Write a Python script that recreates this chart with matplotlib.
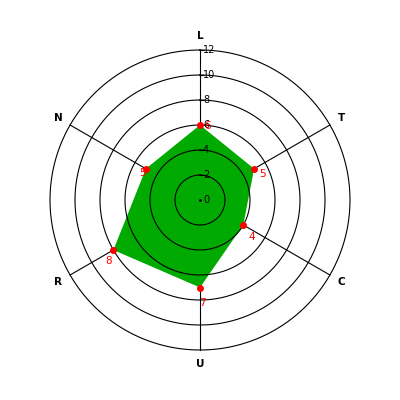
"""Radar chart: six categories, single green series."""
import numpy as np
import matplotlib
matplotlib.use("Agg")
import matplotlib.pyplot as plt

categories = ["L", "T", "C", "U", "R", "N"]
values     = [6, 5, 4, 7, 8, 5]
r_ticks    = [0, 2, 4, 6, 8, 10, 12]
r_max      = 12

# label offsets in pixels (dx right, dy down) for the red value labels
val_offsets = [(8, 1), (8, 5), (8, 12), (2, 15), (-5, 11), (-3, 4)]

n      = len(categories)
angles = np.arange(n) * 2 * np.pi / n

fig = plt.figure(figsize=(4, 4), dpi=100)
ax  = fig.add_axes([0.125, 0.125, 0.75, 0.75], projection="polar")
ax.set_theta_zero_location("N")
ax.set_theta_direction(-1)
ax.set_ylim(0, r_max)
ax.grid(False)
ax.spines["polar"].set_visible(False)
ax.set_xticks([]); ax.set_yticks([])
ax.patch.set_alpha(0)

# spokes under the fill
for a in angles:
    ax.plot([a, a], [0, r_max], color="black", lw=0.8, zorder=1, clip_on=False)

th = np.append(angles, angles[0])
vv = np.append(values, values[0])
ax.fill(th, vv, color="#00aa00", lw=0, zorder=2)

# rings drawn over the fill
ring_t = np.linspace(0, 2 * np.pi, 721)
for r in r_ticks[1:]:
    ax.plot(ring_t, np.full_like(ring_t, r), color="black", lw=0.8, zorder=3,
            clip_on=False)

# scale along the top spoke
ax.plot(np.zeros(len(r_ticks) - 1), r_ticks[1:], linestyle="none",
        marker=1, markersize=3, color="black", mew=0.8, zorder=4, clip_on=False)
ax.plot([0], [0], "o", color="black", markersize=1, zorder=4)
for r in r_ticks:
    ax.annotate(str(r), (0, r), xytext=(3, 0), textcoords="offset pixels",
                ha="left", va="center", fontsize=7, color="black", zorder=5)

# data points and value labels
ax.plot(angles, values, "o", color="red", markersize=4, linestyle="none", zorder=6)
for a, v, (dx, dy) in zip(angles, values, val_offsets):
    ax.annotate(str(v), (a, v), xytext=(dx, -dy), textcoords="offset pixels",
                ha="center", va="center", fontsize=7.5, color="red", zorder=7)

# category names outside the outer ring
for a, name in zip(angles, categories):
    ax.text(a, 13.1, name, ha="center", va="center", fontsize=7.5,
            fontweight="bold", color="black")

fig.savefig("out.png", dpi=100, facecolor="white")
plt.close(fig)
